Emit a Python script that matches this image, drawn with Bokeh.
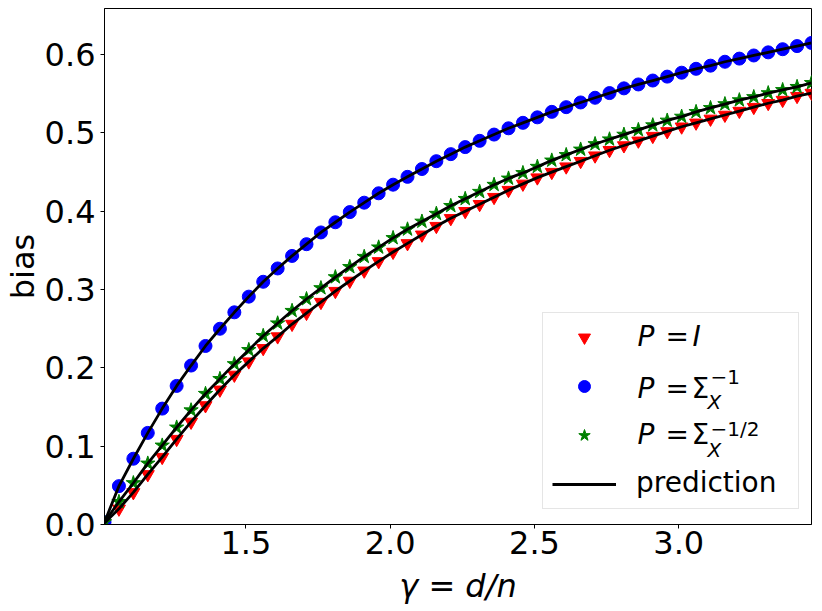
from bokeh.plotting import figure
from bokeh.models import (Range1d, FixedTicker, PrintfTickFormatter, Legend,
                          LegendItem, Label)
from bokeh.embed import file_html
from bokeh.resources import INLINE

gamma = [1.01, 1.06, 1.11, 1.16, 1.21, 1.26, 1.31, 1.36, 1.41, 1.46,
         1.51, 1.56, 1.61, 1.66, 1.71, 1.76, 1.81, 1.86, 1.91, 1.96,
         2.01, 2.06, 2.11, 2.16, 2.21, 2.26, 2.31, 2.36, 2.41, 2.46,
         2.51, 2.56, 2.61, 2.66, 2.71, 2.76, 2.81, 2.86, 2.91, 2.96,
         3.01, 3.06, 3.11, 3.16, 3.21, 3.26, 3.31, 3.36, 3.41, 3.46]

bias_identity = [0.002, 0.020, 0.041, 0.064, 0.086, 0.109, 0.131, 0.152, 0.172, 0.191,
                 0.208, 0.225, 0.240, 0.256, 0.270, 0.284, 0.298, 0.311, 0.324, 0.336,
                 0.348, 0.359, 0.370, 0.381, 0.391, 0.400, 0.409, 0.418, 0.427, 0.435,
                 0.443, 0.450, 0.457, 0.464, 0.471, 0.478, 0.484, 0.490, 0.496, 0.502,
                 0.508, 0.513, 0.518, 0.523, 0.528, 0.533, 0.538, 0.542, 0.547, 0.551]

bias_inv = [0.003, 0.049, 0.084, 0.117, 0.148, 0.177, 0.203, 0.228, 0.250, 0.271,
            0.291, 0.310, 0.327, 0.343, 0.358, 0.373, 0.386, 0.399, 0.411, 0.423,
            0.434, 0.444, 0.454, 0.464, 0.473, 0.482, 0.490, 0.498, 0.506, 0.513,
            0.520, 0.527, 0.533, 0.539, 0.545, 0.551, 0.557, 0.562, 0.567, 0.572,
            0.577, 0.582, 0.586, 0.591, 0.595, 0.599, 0.603, 0.607, 0.611, 0.615]

bias_invsqrt = [0.003, 0.029, 0.053, 0.078, 0.101, 0.124, 0.146, 0.167, 0.186, 0.205,
                0.223, 0.241, 0.257, 0.273, 0.288, 0.302, 0.316, 0.329, 0.342, 0.354,
                0.366, 0.377, 0.387, 0.397, 0.407, 0.416, 0.425, 0.434, 0.442, 0.449,
                0.457, 0.465, 0.472, 0.479, 0.486, 0.492, 0.498, 0.504, 0.510, 0.516,
                0.521, 0.527, 0.532, 0.537, 0.542, 0.546, 0.551, 0.555, 0.559, 0.564]

pred_identity = bias_identity
pred_inv = bias_inv
pred_invsqrt = bias_invsqrt

x_ticks = [1.5, 2.0, 2.5, 3.0]
y_ticks = [0.0, 0.1, 0.2, 0.3, 0.4, 0.5, 0.6]

p = figure(frame_width=707, frame_height=516, output_backend="svg",
           toolbar_location=None,
           x_range=Range1d(1.01, 3.46), y_range=Range1d(0.0, 0.659),
           min_border_left=98, min_border_right=1, min_border_top=8,
           min_border_bottom=10)
p.grid.visible = False
p.outline_line_color = "black"
p.outline_line_width = 1
p.background_fill_color = "white"
p.border_fill_color = "white"

for ax in (p.xaxis[0], p.yaxis[0]):
    ax.axis_line_color = "black"
    ax.major_tick_line_color = "black"
    ax.major_tick_out = 4
    ax.major_tick_in = 0
    ax.minor_tick_line_color = None
    ax.major_label_text_font = "DejaVu Sans"
    ax.major_label_text_font_size = "32px"
    ax.major_label_text_color = "black"
    ax.axis_label_text_font = "DejaVu Sans"
    ax.axis_label_text_font_size = "32px"
    ax.axis_label_text_color = "black"
    ax.formatter = PrintfTickFormatter(format="%.1f")

p.xaxis.ticker = FixedTicker(ticks=x_ticks)
p.yaxis.ticker = FixedTicker(ticks=y_ticks)
p.xaxis.axis_label = "γ = d/n"
p.xaxis.axis_label_text_font_style = "italic"
p.yaxis.axis_label = "bias"
p.yaxis.axis_label_text_font_style = "normal"
p.xaxis.major_label_standoff = 2
p.xaxis.axis_label_standoff = 10
p.yaxis.major_label_standoff = 5
p.yaxis.axis_label_standoff = 0

r_red = p.scatter(gamma, bias_identity, marker="inverted_triangle", size=13,
                  color="#ff0000", line_color="#ff0000")
r_blue = p.scatter(gamma, bias_inv, marker="circle", size=13,
                   color="#0000ff", line_color="#0000ff")
r_green = p.scatter(gamma, bias_invsqrt, marker="star", size=15,
                    color="#008000", line_color="#008000")
l1 = p.line(gamma, pred_identity, line_color="black", line_width=2.8)
l2 = p.line(gamma, pred_inv, line_color="black", line_width=2.8)
l3 = p.line(gamma, pred_invsqrt, line_color="black", line_width=2.8)

legend = Legend(items=[LegendItem(label=" ", renderers=[r_red]),
                       LegendItem(label=" ", renderers=[r_blue]),
                       LegendItem(label=" ", renderers=[r_green]),
                       LegendItem(label=" ", renderers=[l1])],
                location=(438, 15))
legend.glyph_width = 64
legend.glyph_height = 30
legend.label_height = 30
legend.label_width = 170
legend.label_standoff = 3
legend.label_text_font_size = "8px"
legend.label_text_alpha = 0
legend.padding = 9
legend.spacing = 19
legend.margin = 0
legend.border_line_color = "#cccccc"
legend.border_line_width = 1
legend.background_fill_color = "white"
legend.background_fill_alpha = 0.0
p.add_layout(legend)

def lab(x, y, t, size="28px", style="normal"):
    p.add_layout(Label(x=x, y=y, x_units="screen", y_units="screen", text=t,
                       text_font="DejaVu Sans", text_font_size=size,
                       text_font_style=style, text_color="black",
                       text_align="left", text_baseline="alphabetic",
                       level="overlay"))

rows = [188.0, 136.3, 90.0]
for yb in rows:
    lab(533, yb, "P", style="italic")
    lab(561, yb, "=")
lab(588, rows[0], "I", style="italic")
lab(587, rows[1], "Σ")
lab(587, rows[2], "Σ")
lab(603, 123, "X", size="20px", style="italic")
lab(606, 148, "−1", size="20px")
lab(603, 74.3, "X", size="20px", style="italic")
lab(606, 96, "−1/2", size="20px")
lab(531.5, 42, "prediction")

open("out.html", "w").write(file_html(p, INLINE))
